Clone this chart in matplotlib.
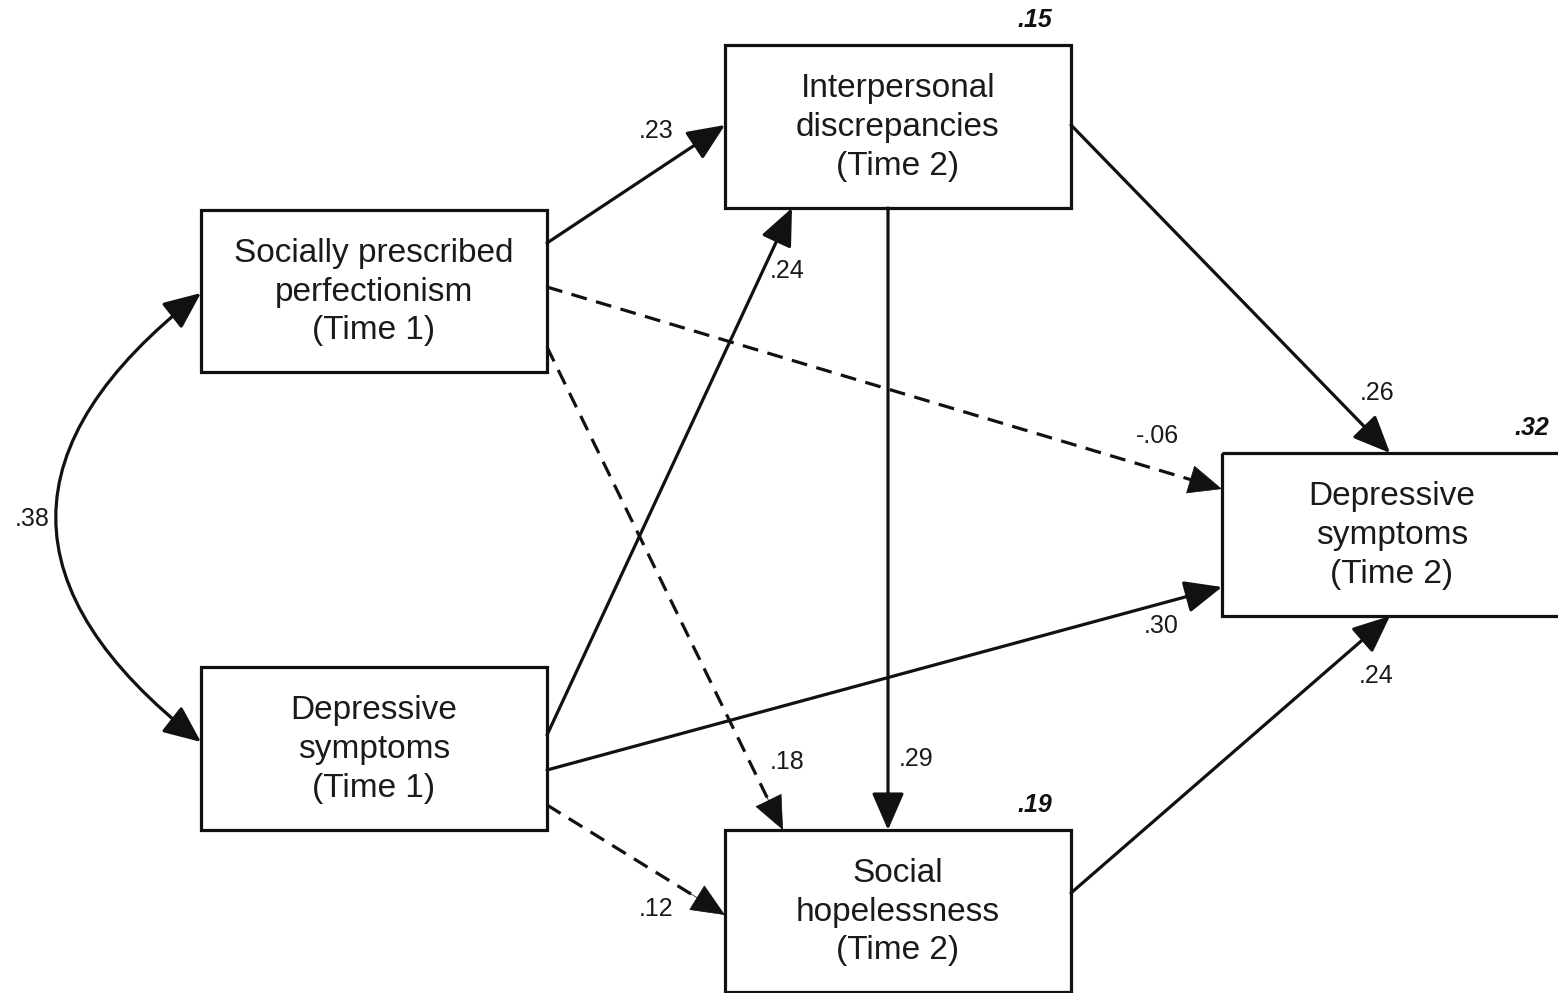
import numpy as np
import matplotlib.pyplot as plt
from matplotlib.patches import Rectangle, FancyArrowPatch

plt.rcParams['font.family'] = ['Liberation Sans', 'DejaVu Sans']

# node labels
nodes = ['spp1', 'dep1', 'inter2', 'hope2', 'dep2']
node_labels = ['Socially prescribed\nperfectionism\n(Time 1)',
               'Depressive\nsymptoms\n(Time 1)',
               'Interpersonal\ndiscrepancies\n(Time 2)',
               'Social\nhopelessness\n(Time 2)',
               'Depressive\nsymptoms\n(Time 2)']
r2_nodes = ['inter2', 'hope2', 'dep2']
r2_values = ['.15', '.19', '.32']

# paths: source, target, coefficient, significant
path_src = ['spp1', 'dep1', 'spp1', 'spp1', 'inter2', 'inter2', 'dep1', 'dep1', 'hope2']
path_dst = ['inter2', 'inter2', 'dep2', 'hope2', 'hope2', 'dep2', 'dep2', 'hope2', 'dep2']
path_coef = ['.23', '.24', '-.06', '.18', '.29', '.26', '.30', '.12', '.24']
path_sig = [True, True, False, False, True, True, True, False, True]
corr_value = '.38'

# layout (pixel space): box = (x0, y0, x1, y1)
boxes = {
    'spp1': (201, 210, 547, 372),
    'dep1': (201, 667, 547, 830),
    'inter2': (725, 45, 1071, 208),
    'hope2': (725, 830, 1071, 992),
    'dep2': (1222, 453, 1562, 616),
}
anchors = [((547, 243), (725, 125)),
           ((547, 735), (792, 208)),
           ((547, 287), (1222, 489)),
           ((547, 347), (783, 830)),
           ((888, 208), (888, 830)),
           ((1071, 125), (1390, 453)),
           ((547, 770), (1222, 587)),
           ((547, 805), (725, 915)),
           ((1071, 893), (1390, 616))]
label_pos = [(656, 131), (787, 271), (1157, 436), (787, 762), (916, 759),
             (1377, 393), (1161, 626), (656, 909), (1376, 676)]
r2_pos = [(1035, 20), (1035, 805), (1532, 428)]

fig = plt.figure(figsize=(15.58, 9.93), dpi=100)
ax = fig.add_axes([0, 0, 1, 1])
ax.set_xlim(0, 1558)
ax.set_ylim(993, 0)
ax.axis('off')

lw = 2.3
ink = '#111111'
head = 'head_length=1.15,head_width=0.5'
ms = 20

for key, lab in zip(nodes, node_labels):
    x0, y0, x1, y1 = boxes[key]
    ax.add_patch(Rectangle((x0, y0), x1 - x0, y1 - y0, fill=False,
                           edgecolor=ink, lw=lw, zorder=3))
    ax.text((x0 + min(x1, 1558)) / 2 + (2 if key == 'dep2' else 0), (y0 + y1) / 2 + 1, lab,
            ha='center', va='center', fontsize=24, linespacing=1.33,
            color='#1a1a1a', zorder=4)

for (p0, p1), coef, sig, lp in zip(anchors, path_coef, path_sig, label_pos):
    if sig:
        ax.add_patch(FancyArrowPatch(p0, p1, arrowstyle='-|>,' + head, mutation_scale=ms,
                                     shrinkA=0, shrinkB=0, lw=lw, color=ink, zorder=2))
    else:
        p0a, p1a = np.array(p0, float), np.array(p1, float)
        d = (p1a - p0a) / np.hypot(*(p1a - p0a))
        ax.plot([p0a[0], p1a[0] - 20 * d[0]], [p0a[1], p1a[1] - 20 * d[1]],
                color=ink, lw=lw, linestyle=(0, (5, 3)), zorder=2)
        ax.add_patch(FancyArrowPatch(tuple(p1a - 40 * d), p1, arrowstyle='-|>,' + head,
                                     mutation_scale=ms, shrinkA=0, shrinkB=0, lw=0.5,
                                     color=ink, zorder=2))
    ax.text(lp[0], lp[1], coef, ha='center', va='center', fontsize=18,
            color='#1a1a1a')

# correlation between Time 1 variables
corr = FancyArrowPatch((201, 293), (201, 742), arrowstyle='<|-|>,' + head,
                       mutation_scale=ms, connectionstyle='arc3,rad=0.64',
                       shrinkA=0, shrinkB=0, lw=lw, color=ink, zorder=2)
ax.add_patch(corr)
ax.text(32, 519, corr_value, ha='center', va='center', fontsize=18, color='#1a1a1a')

for key, val, pos in zip(r2_nodes, r2_values, r2_pos):
    ax.text(pos[0], pos[1], val, ha='center', va='center', fontsize=18,
            fontweight='bold', fontstyle='italic', color='#111111')

fig.savefig('out.png', dpi=100, facecolor='white')
